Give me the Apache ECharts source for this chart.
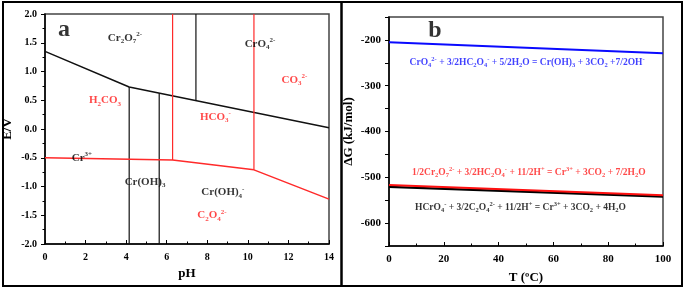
<!DOCTYPE html>
<html>
<head>
<meta charset="utf-8">
<script src="https://cdn.jsdelivr.net/npm/echarts@6/dist/echarts.min.js"></script>
<style>
  html, body { margin: 0; padding: 0; background: #fff; }
  #main { width: 685px; height: 289px; }
</style>
</head>
<body>
<div id="main"></div>
<script>
// ---- panel a : E-pH diagram (pH, E/V) ----
var upperLine   = [[0, 1.35], [4.15, 0.73], [14, 0.02]];
var crOH3Left   = [[4.15, 0.73], [4.15, -2.0]];
var crOH3Right  = [[5.63, 0.62], [5.63, -2.0]];
var cr2o7Cro4   = [[7.44, 0.50], [7.44, 2.0]];
var h2co3Hco3   = [[6.29, 2.0], [6.29, -0.54]];
var hco3Co3     = [[10.3, 2.0], [10.3, -0.71]];
var lowerLine   = [[0, -0.50], [6.29, -0.54], [10.3, -0.71], [14, -1.22]];

// species labels [pH, E, text, colour]
var labelsA = [
    [0.94, 1.72, 'a', '#000', 'big'],
    [3.94, 1.58, 'Cr{s|2}O{s|7}{p|2-}', '#000'],
    [10.6, 1.48, 'CrO{s|4}{p|2-}', '#000'],
    [12.3, 0.85, 'CO{s|3}{p|2-}', '#ff1a1a'],
    [2.96, 0.50, 'H{s|2}CO{s|3}', '#ff1a1a'],
    [8.40, 0.21, 'HCO{s|3}{p|-}', '#ff1a1a'],
    [1.82, -0.50, 'Cr{p|3+}', '#000'],
    [4.93, -0.92, 'Cr(OH){s|3}', '#000'],
    [8.77, -1.10, 'Cr(OH){s|4}{p|-}', '#000'],
    [8.23, -1.50, 'C{s|2}O{s|4}{p|2-}', '#ff1a1a']
];

// ---- panel b : dG vs T ----
var tempT      = [0, 100];
var dgBlue     = [-205, -229];
var dgRed      = [-517, -539];
var dgBlack    = [-521, -542];

var labelsB = [
    [16.8, -180, 'b', '#000', 'big'],
    [50.4, -249, 'CrO{s|4}{p|2-} + 3/2HC{s|2}O{s|4}{p|-} + 5/2H{s|2}O = Cr(OH){s|3} + 3CO{s|2} +7/2OH{p|-}', '#1010ff'],
    [51.0, -489, '1/2Cr{s|2}O{s|7}{p|2-} + 3/2HC{s|2}O{s|4}{p|-} + 11/2H{p|+} = Cr{p|3+} + 3CO{s|2} + 7/2H{s|2}O', '#ff1a1a'],
    [48.0, -566, 'HCrO{s|4}{p|-} + 3/2C{s|2}O{s|4}{p|2-} + 11/2H{p|+} = Cr{p|3+} + 3CO{s|2} + 4H{s|2}O', '#000']
];

var FONT = "'Liberation Serif', 'Times New Roman', serif";

function pairs(xs, ys) {
    var out = [];
    for (var i = 0; i < xs.length; i++) out.push([xs[i], ys[i]]);
    return out;
}

function lineSeries(data, color, width, xi) {
    return {
        type: 'line',
        xAxisIndex: xi, yAxisIndex: xi,
        data: data,
        symbol: 'none',
        silent: true,
        lineStyle: { color: color, width: width },
        z: 3
    };
}

function labelSeries(list, xi, size, subSize) {
    var data = [];
    for (var i = 0; i < list.length; i++) {
        var it = list[i];
        var big = it[4] == 'big';
        data.push({
            value: [it[0], it[1]],
            text: it[2],
            label: {
                color: it[3],
                fontSize: big ? 24 : size,
                lineHeight: big ? 26 : size + 3
            }
        });
    }
    return {
        type: 'scatter',
        xAxisIndex: xi, yAxisIndex: xi,
        symbolSize: 0,
        silent: true,
        z: 5,
        data: data,
        label: {
            show: true,
            position: 'inside',
            fontFamily: FONT,
            fontWeight: 'bold',
            formatter: function (p) { return p.data.text; },
            rich: {
                s: { fontSize: subSize, fontFamily: FONT, fontWeight: 'bold', verticalAlign: 'bottom', lineHeight: subSize + 1 },
                p: { fontSize: subSize, fontFamily: FONT, fontWeight: 'bold', verticalAlign: 'top', lineHeight: subSize + 1 }
            }
        }
    };
}

function axisCommon(extra) {
    var base = {
        type: 'value',
        axisLine: { show: true, onZero: false, lineStyle: { color: '#000', width: 1.5 } },
        axisTick: { show: true, length: 4, lineStyle: { color: '#000', width: 1 } },
        minorTick: { show: true, splitNumber: 2, length: 2.5, lineStyle: { color: '#000' } },
        splitLine: { show: false },
        axisLabel: { color: '#000', fontFamily: FONT, fontWeight: 'bold', fontSize: 10 },
        nameTextStyle: { color: '#000', fontFamily: FONT, fontWeight: 'bold', fontSize: 13 },
        nameLocation: 'middle'
    };
    for (var k in extra) base[k] = extra[k];
    return base;
}

var myChart = echarts.init(document.getElementById('main'));
var option = {
    animation: false,
    backgroundColor: '#fff',
    grid: [
        { left: 45, top: 14, width: 284, height: 230, show: true, borderColor: '#444', borderWidth: 1.5 },
        { left: 389, top: 17, width: 274, height: 231, show: true, borderColor: '#444', borderWidth: 1.5 }
    ],
    xAxis: [
        axisCommon({ gridIndex: 0, min: 0, max: 14, interval: 2, name: 'pH', nameGap: 21,
            axisTick: { show: true, inside: true, length: 4, lineStyle: { color: '#000' } },
            minorTick: { show: true, splitNumber: 2, length: 2.5, lineStyle: { color: '#000' } } }),
        axisCommon({ gridIndex: 1, min: 0, max: 100, interval: 20, name: 'T (\u00baC)', nameGap: 25,
            axisTick: { show: true, inside: true, length: 4, lineStyle: { color: '#000' } },
            minorTick: { show: true, splitNumber: 2, length: 2.5, lineStyle: { color: '#000' } },
            axisLabel: { color: '#000', fontFamily: FONT, fontWeight: 'bold', fontSize: 11, margin: 8 } })
    ],
    yAxis: [
        axisCommon({ gridIndex: 0, min: -2, max: 2, interval: 0.5, name: 'E/V', nameGap: 31,
            axisLabel: { color: '#000', fontFamily: FONT, fontWeight: 'bold', fontSize: 10,
                formatter: function (v) { return v.toFixed(1); } } }),
        axisCommon({ gridIndex: 1, min: -650, max: -150, interval: 50, name: '\u0394G (kJ/mol)', nameGap: 34,
            minorTick: { show: false },
            axisLabel: { color: '#000', fontFamily: FONT, fontWeight: 'bold', fontSize: 11,
                formatter: function (v) { return (v % 100 === 0 && v > -650 && v < -150) ? String(v) : ''; } } })
    ],
    series: [
        lineSeries(upperLine, '#111', 1.5, 0),
        lineSeries(crOH3Left, '#111', 1.2, 0),
        lineSeries(crOH3Right, '#111', 1.2, 0),
        lineSeries(cr2o7Cro4, '#111', 1.2, 0),
        lineSeries(h2co3Hco3, '#ff2a2a', 1.2, 0),
        lineSeries(hco3Co3, '#ff2a2a', 1.2, 0),
        lineSeries(lowerLine, '#ff2a2a', 1.5, 0),
        labelSeries(labelsA, 0, 11, 7),
        lineSeries(pairs(tempT, dgBlue), '#0a0aff', 2, 1),
        lineSeries(pairs(tempT, dgBlack), '#000', 2.2, 1),
        lineSeries(pairs(tempT, dgRed), '#ff1010', 2, 1),
        labelSeries(labelsB, 1, 9.5, 6.5)
    ],
    graphic: [
        { type: 'rect', shape: { x: 3, y: 2, width: 679, height: 284 },
          style: { fill: null, stroke: '#000', lineWidth: 2 }, silent: true },
        { type: 'line', shape: { x1: 341.5, y1: 2, x2: 341.5, y2: 286 },
          style: { stroke: '#000', lineWidth: 2.5 }, silent: true }
    ]
};
myChart.setOption(option);
</script>
</body>
</html>
